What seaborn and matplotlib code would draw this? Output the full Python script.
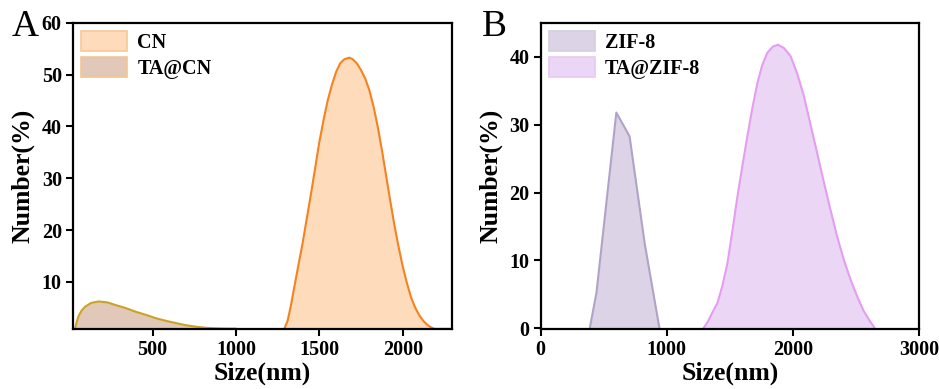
import numpy as np
import pandas as pd
import matplotlib
matplotlib.use("Agg")
import matplotlib.pyplot as plt
from matplotlib.patches import Patch
import seaborn as sns

# ---------------- data ----------------
cn_size = [1290, 1310, 1330, 1350, 1375, 1400, 1425, 1450, 1475, 1500, 1525,
           1550, 1575, 1600, 1625, 1650, 1680, 1700, 1725, 1750, 1775, 1800,
           1825, 1850, 1875, 1900, 1925, 1950, 1975, 2000, 2025, 2050, 2075,
           2100, 2125, 2150, 2170, 2190, 2300]
cn_num = [0.9, 2.5, 5.5, 9.0, 13.3, 17.5, 22.3, 27.0, 32.0, 37.0, 41.2,
          45.0, 48.0, 50.5, 52.2, 53.0, 53.3, 53.0, 52.2, 50.9, 49.3, 47.0,
          43.9, 40.0, 35.5, 30.6, 25.7, 21.0, 16.8, 13.0, 9.8, 7.0, 5.0,
          3.5, 2.4, 1.6, 1.2, 0.9, 0.9]

tacn_size = [35, 45, 55, 75, 96, 130, 176, 230, 278, 340, 399, 460, 520, 580,
             642, 700, 763, 820, 885, 950, 1000]
tacn_num = [1.0, 2.3, 3.3, 4.5, 5.2, 5.9, 6.2, 6.0, 5.5, 4.9, 4.2, 3.6, 2.95,
            2.45, 2.0, 1.6, 1.3, 1.1, 1.0, 0.95, 0.95]

zif_size = [389, 442, 600, 705, 825, 942]
zif_num = [0.0, 5.2, 31.8, 28.3, 12.5, 0.0]

tazif_size = [1290, 1320, 1350, 1380, 1401, 1440, 1481, 1520, 1560, 1600,
              1639, 1680, 1718, 1757, 1797, 1840, 1881, 1930, 1982, 2035,
              2088, 2140, 2193, 2246, 2299, 2350, 2404, 2457, 2510, 2560,
              2610, 2650]
tazif_num = [0.0, 0.8, 1.9, 3.0, 3.7, 6.2, 9.6, 14.3, 19.4, 24.0,
             28.3, 32.6, 36.1, 38.8, 40.6, 41.5, 41.8, 41.3, 40.1, 37.5,
             34.2, 30.0, 25.8, 21.5, 17.4, 13.6, 10.1, 7.2, 4.7, 2.6,
             1.1, 0.0]

a_xticks = [500, 1000, 1500, 2000]
a_yticks = [10, 20, 30, 40, 50, 60]
b_xticks = [0, 1000, 2000, 3000]
b_yticks = [0, 10, 20, 30, 40]

# ---------------- style ----------------
sns.set_style("ticks")
plt.rcParams['font.family'] = ['Liberation Serif', 'DejaVu Serif']
plt.rcParams['axes.linewidth'] = 1.6
for key in ["text.color", "axes.labelcolor", "xtick.color", "ytick.color"]:
    plt.rcParams[key] = "black"

fig = plt.figure(figsize=(9.39, 3.89), dpi=100)
axA = fig.add_axes([0.0777, 0.1542, 0.4037, 0.7867])
axB = fig.add_axes([0.5758, 0.1542, 0.4029, 0.7867])

series_A = [
    ("CN", cn_size, cn_num, "#f5821f", "#fddbbb", "#f8c898"),
    ("TA@CN", tacn_size, tacn_num, "#c9a227", "#e1c8b8", "#f3c590"),
]
series_B = [
    ("ZIF-8", zif_size, zif_num, "#b0a3c8", "#dcd3e6", "#d5cde0"),
    ("TA@ZIF-8", tazif_size, tazif_num, "#e49df0", "#ecd6f6", "#e8c9f4"),
]


def draw(ax, series, base):
    handles = []
    for name, xs, ys, lc, fc, ec in series:
        df = pd.DataFrame({"Size": xs, "Number": ys})
        ax.fill_between(df["Size"], base, df["Number"], color=fc, lw=0, zorder=1)
        sns.lineplot(data=df, x="Size", y="Number", ax=ax, color=lc, lw=1.5,
                     zorder=2, sort=False, solid_joinstyle="round")
        handles.append(Patch(facecolor=fc, edgecolor=ec, lw=1.2, label=name))
    ax.legend(handles=handles, loc="upper left", frameon=False,
              prop={"weight": "bold", "size": 14.5}, handlelength=2.3,
              handleheight=1.15, labelspacing=0.2, handletextpad=0.5,
              borderaxespad=0.3, borderpad=0.1)


draw(axA, series_A, 0.85)
draw(axB, series_B, 0.0)

axA.set_xlim(22, 2296)
axA.set_ylim(0.87, 60)
axA.set_xticks(a_xticks)
axA.set_yticks(a_yticks)
axB.set_xlim(0, 3000)
axB.set_ylim(-0.1, 45)
axB.set_xticks(b_xticks)
axB.set_yticks(b_yticks)

for ax, letter, lx in [(axA, "A", 0.012), (axB, "B", 0.513)]:
    ax.set_xlabel("Size(nm)", fontsize=18.5, fontweight="bold", labelpad=1)
    ax.set_ylabel("Number(%)", fontsize=18.5, fontweight="bold", labelpad=5)
    ax.tick_params(axis="both", direction="out", length=5, width=1.5,
                   labelsize=14.5, pad=3, top=False, right=False)
    for lab in ax.get_xticklabels() + ax.get_yticklabels():
        lab.set_fontweight("bold")
    for sp in ax.spines.values():
        sp.set_visible(True)
        sp.set_linewidth(1.6)
        sp.set_color("black")
    fig.text(lx, 0.975, letter, fontsize=27, va="top", ha="left")

fig.savefig("out.png", dpi=100)
